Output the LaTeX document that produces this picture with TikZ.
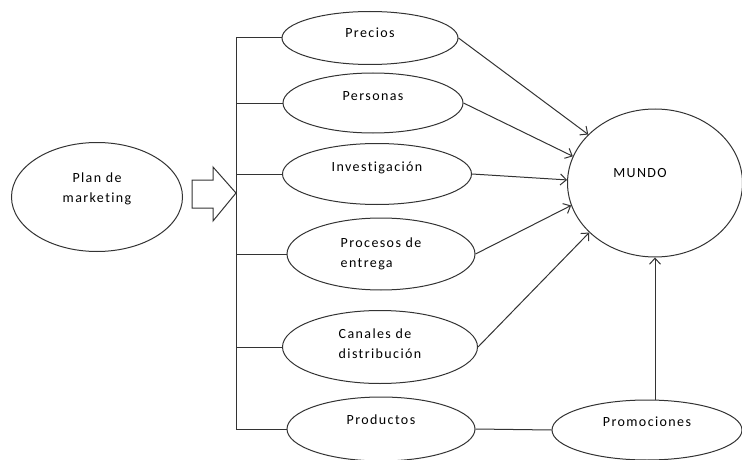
\documentclass[tikz,border=0pt]{standalone}
\usepackage{fontspec}
\setmainfont{Carlito}[LetterSpace=10,Ligatures=NoCommon]
\usepackage{tikz}
\usetikzlibrary{positioning,arrows.meta,shapes.geometric}
\tikzset{
  elli_n/.style = {ellipse, draw=black!80, line width=1pt, inner sep=0pt,
    font=\fontsize{14}{20}\selectfont, align=left},
  elli_sz/.style 2 args = {minimum width=#1, minimum height=#2},
  lift/.style = {text depth=#1},% pushes the text up in the ellipse
  conn/.style = {draw=black!80, line width=1pt},
  arr/.style = {conn, -{Straight Barb[length=6pt,width=11pt,line width=1pt]}}
}
\begin{document}
\begin{tikzpicture}[x=1pt,y=-1pt]
\useasboundingbox (0,0) rectangle (742,460);
% left side
\node (plan) [elli_n, elli_sz={171pt}{109pt}, lift=18pt, align=center]
  at (97,197) {Plan de\\marketing};
\draw[conn] (192,180) -- (213,180) -- (213,167) -- (236,193)
  -- (213,221) -- (213,208) -- (192,208) -- cycle;
\coordinate (trunk) at (236,0);
% the six branches
\node (precios) [elli_n, elli_sz={176pt}{53pt}, lift=10pt] at (370,38) {Precios};
\node (personas) [elli_n, elli_sz={180pt}{60pt}, lift=14pt] at (373,103) {Personas};
\node (invest) [elli_n, elli_sz={189pt}{61pt}, lift=14pt] at (377,174) {Investigación};
\node (procesos) [elli_n, elli_sz={188pt}{72pt}, lift=3pt] at (381,254)
  {Procesos de\\entrega};
\node (canales) [elli_n, elli_sz={195pt}{73pt}, lift=7pt] at (380,347)
  {Canales de\\distribución};
\node (productos) [elli_n, elli_sz={188pt}{64pt}, lift=18pt] at (381,429) {Productos};
% right side
\node (mundo) [elli_n, elli_sz={175pt}{148pt}, lift=20pt] at (655,183)
  {MUNDO\hspace*{30pt}};
\node (promo) [elli_n, elli_sz={190pt}{60pt}, lift=16pt] at (647,430) {Promociones};

\draw[conn] (precios.west -| trunk) -- (productos.west -| trunk);
\foreach \n in {precios,personas,invest,procesos,canales,productos}
  \draw[conn] (\n.west -| trunk) -- (\n.west);

\draw[arr] (precios.east) -- (mundo.144);
\draw[arr] (personas.east) -- (mundo.162);
\draw[arr] (invest.east) -- (mundo.178);
\draw[arr] (procesos.east) -- (mundo.195);
\draw[arr] (canales.east) -- (mundo.217);
\draw[conn] (productos.east) -- (promo.west);
\draw[arr] (promo.north -| mundo.south) -- (mundo.south);
\end{tikzpicture}
\end{document}
